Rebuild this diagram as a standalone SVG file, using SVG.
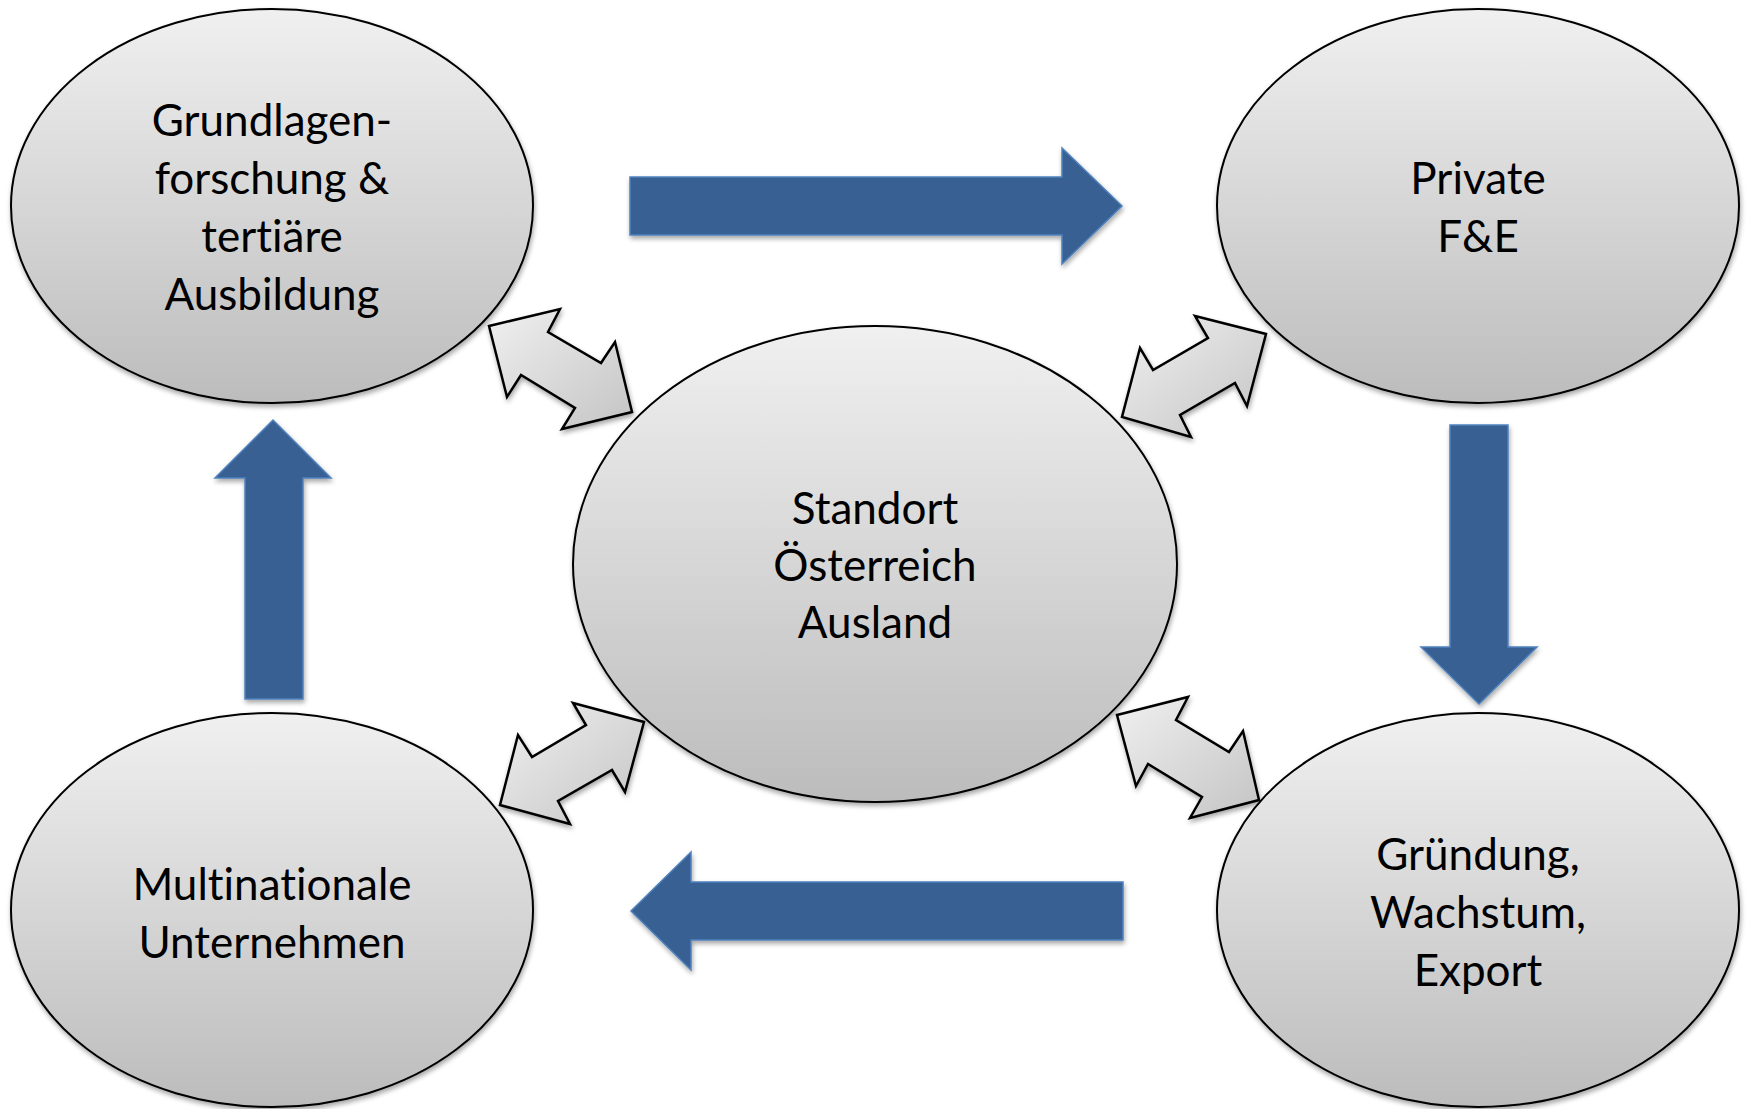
<svg xmlns="http://www.w3.org/2000/svg" width="1748" height="1109" viewBox="0 0 1748 1109">
<style>
.node ellipse{fill:url(#gEl);stroke:#000;stroke-width:2;filter:url(#sh)}
.lbl{font-family:Lato,"Open Sans","Noto Sans",sans-serif;font-size:44px;fill:#000;text-anchor:middle;font-variant-ligatures:none;font-feature-settings:"liga" 0,"clig" 0}
.blue{fill:#376092;stroke:#4f81bd;stroke-width:1.5;filter:url(#sh)}
.dbl{fill:url(#gDb);stroke:#000;stroke-width:2.5;stroke-linejoin:miter;filter:url(#sh)}
</style>
<defs>
<linearGradient id="gEl" x1="0" y1="0" x2="0" y2="1">
<stop offset="0" stop-color="#f0f0f0"/>
<stop offset="1" stop-color="#bcbcbc"/>
</linearGradient>
<linearGradient id="gDb" x1="0" y1="0" x2="1" y2="1">
<stop offset="0" stop-color="#f0f0f0"/>
<stop offset="1" stop-color="#c4c4c4"/>
</linearGradient>
<filter id="sh" x="-10%" y="-10%" width="120%" height="130%">
<feGaussianBlur in="SourceAlpha" stdDeviation="2.5"/>
<feOffset dx="1" dy="3" result="b"/>
<feComponentTransfer><feFuncA type="linear" slope="0.35"/></feComponentTransfer>
<feMerge><feMergeNode/><feMergeNode in="SourceGraphic"/></feMerge>
</filter>
</defs>
<rect width="1748" height="1109" fill="#fff"/>
<g id="connectors">
<polygon class="blue" points="630,177 1062,177 1062,148 1122,206 1062,264 1062,235 630,235"/>
<polygon class="blue" points="1450,425 1508,425 1508,647 1537,647 1479,704 1421,647 1450,647"/>
<polygon class="blue" points="1123,882 691,882 691,852 631,911 691,970 691,940 1123,940"/>
<polygon class="blue" points="303,699 245,699 245,478 215,478 273,420 331,478 303,478"/>
<polygon class="dbl" points="489,326 560,309 548,332 601,363 615,342 632,412 562,429 575,408 521,375 507,397"/>
<polygon class="dbl" points="1195,316 1266,334 1247,406 1235,383 1180,415 1191,437 1122,417 1140,348 1153,370 1208,338"/>
<polygon class="dbl" points="573,703 644,722 625,792 612,770 558,801 570,824 500,805 518,735 532,757 586,725"/>
<polygon class="dbl" points="1117,715 1188,697 1176,720 1229,752 1243,731 1259,800 1190,818 1202,797 1148,764 1136,786"/>
</g>
<g id="node-grundlagen" class="node">
<ellipse cx="272" cy="206" rx="261" ry="197"/>
<text class="lbl" x="272" y="136">Grundlagen-</text>
<text class="lbl" x="272" y="194">forschung &amp;</text>
<text class="lbl" x="272" y="252">tertiäre</text>
<text class="lbl" x="272" y="310">Ausbildung</text>
</g>
<g id="node-private" class="node">
<ellipse cx="1478" cy="206" rx="261" ry="197"/>
<text class="lbl" x="1478" y="194">Private</text>
<text class="lbl" x="1478" y="252">F&amp;E</text>
</g>
<g id="node-standort" class="node">
<ellipse cx="875" cy="564" rx="302" ry="238"/>
<text class="lbl" x="875" y="524">Standort</text>
<text class="lbl" x="875" y="581">Österreich</text>
<text class="lbl" x="875" y="638">Ausland</text>
</g>
<g id="node-multinationale" class="node">
<ellipse cx="272" cy="910" rx="261" ry="197"/>
<text class="lbl" x="272" y="900">Multinationale</text>
<text class="lbl" x="272" y="958">Unternehmen</text>
</g>
<g id="node-gruendung" class="node">
<ellipse cx="1478" cy="910" rx="261" ry="197"/>
<text class="lbl" x="1478" y="870">Gründung,</text>
<text class="lbl" x="1478" y="928">Wachstum,</text>
<text class="lbl" x="1478" y="986">Export</text>
</g>
</svg>
